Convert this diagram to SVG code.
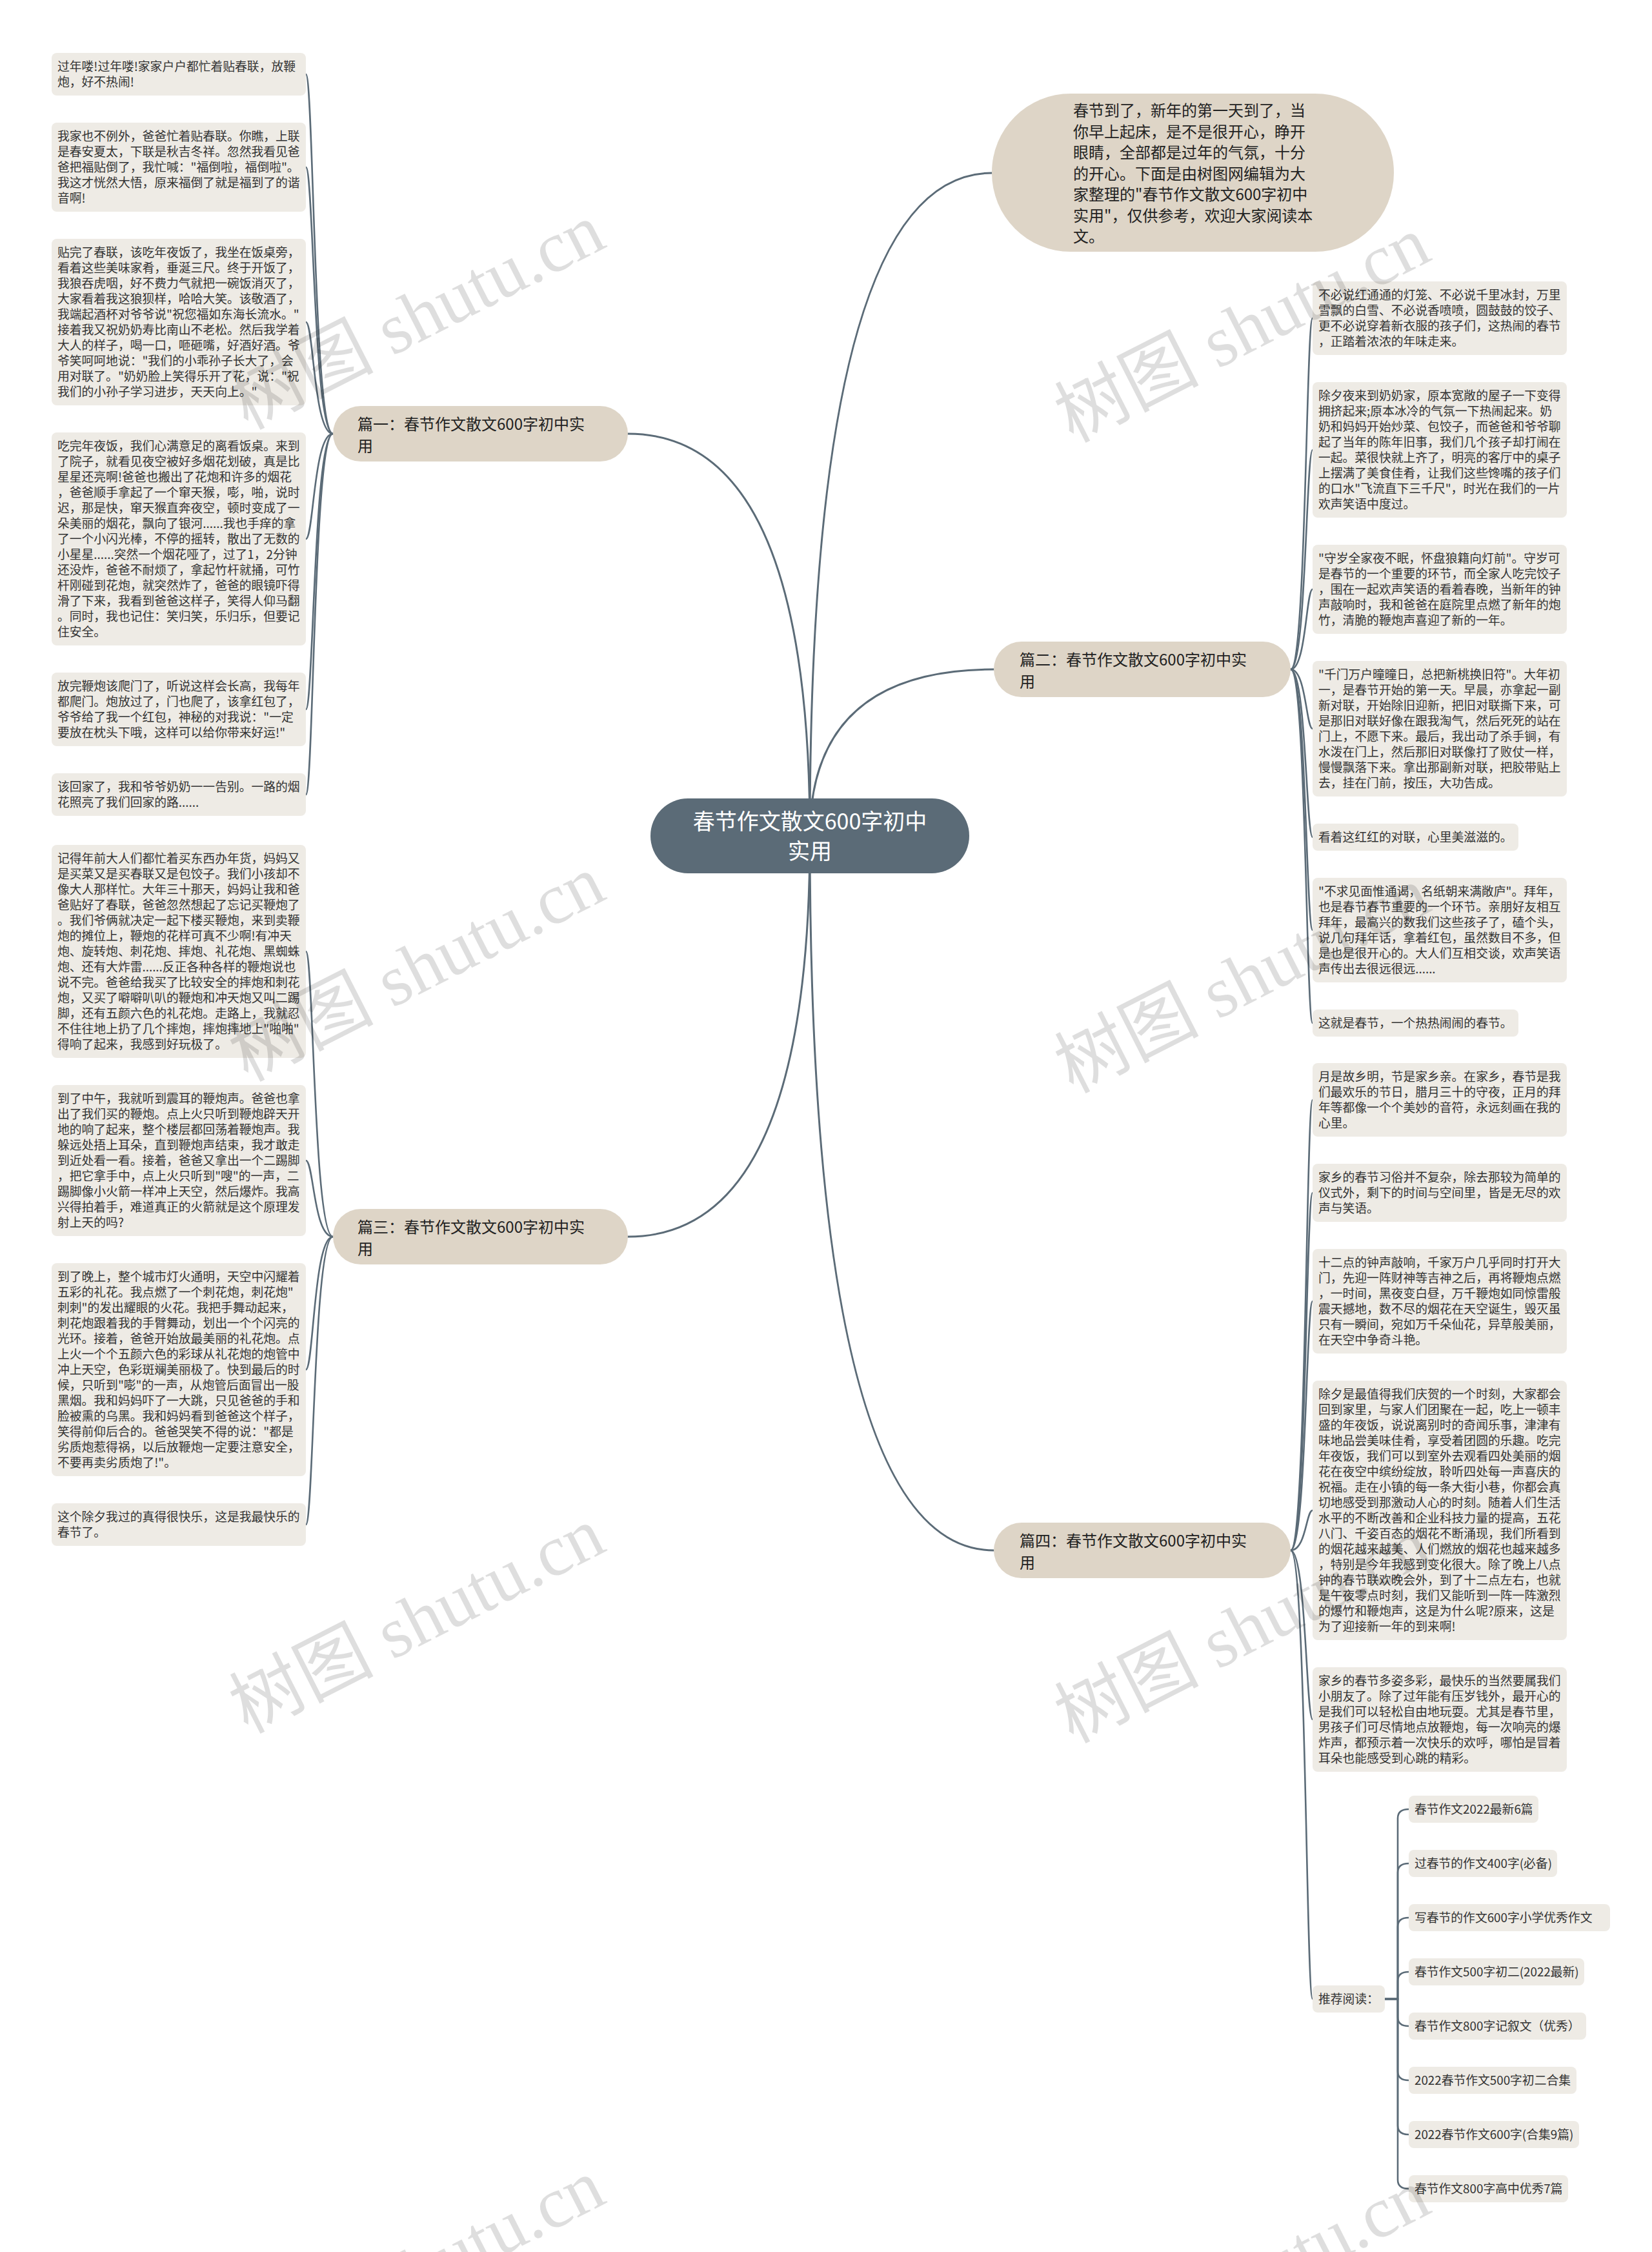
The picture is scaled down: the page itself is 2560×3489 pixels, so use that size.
<svg xmlns="http://www.w3.org/2000/svg" width="2560" height="3489" viewBox="0 0 2560 3489">
<style>
.bg{fill:#ffffff}
.c{fill:none;stroke:#5b6b77;stroke-width:2.6;stroke-linecap:round;stroke-linejoin:round}
.cr{fill:none;stroke:#5b6b77;stroke-width:3;stroke-linecap:round}
.leaf{fill:#eeebe5}
.lt{font-family:"Noto Sans CJK SC","Noto Sans",sans-serif;font-size:18.8px;fill:#333333}
.br{fill:#ded5c7}
.bt{font-family:"Noto Sans CJK SC","Noto Sans",sans-serif;font-size:24px;fill:#222222}
.root{fill:#5b6b77}
.rt{font-family:"Noto Sans CJK SC","Noto Sans",sans-serif;font-size:34px;fill:#ffffff;text-anchor:middle}
.wm{font-family:"Liberation Serif","Noto Sans CJK SC",serif;font-size:112px;fill:#000000;fill-opacity:0.13;text-anchor:middle}
</style>
<rect class="bg" x="0" y="0" width="2560" height="3489"/>

<g id="connectors">
<path class="cr" d="M1255 1295 Q1255 268 1537 268"/>
<path class="cr" d="M1255 1295 Q1255 1037 1540 1037"/>
<path class="cr" d="M1255 1295 Q1255 2402 1540 2402"/>
<path class="cr" d="M1255 1295 Q1255 672 973 672"/>
<path class="cr" d="M1255 1295 Q1255 1916 973 1916"/>
<path class="c" d="M516 672 C486 672 486 115 474 115"/>
<path class="c" d="M516 672 C486 672 486 259 474 259"/>
<path class="c" d="M516 672 C486 672 486 499 474 499"/>
<path class="c" d="M516 672 C486 672 486 835 474 835"/>
<path class="c" d="M516 672 C486 672 486 1099 474 1099"/>
<path class="c" d="M516 672 C486 672 486 1231 474 1231"/>
<path class="c" d="M516 1916 C486 1916 486 1474 474 1474"/>
<path class="c" d="M516 1916 C486 1916 486 1798 474 1798"/>
<path class="c" d="M516 1916 C486 1916 486 2122 474 2122"/>
<path class="c" d="M516 1916 C486 1916 486 2362 474 2362"/>
<path class="c" d="M2000 1037 C2024 1037 2024 493 2034 493"/>
<path class="c" d="M2000 1037 C2024 1037 2024 697 2034 697"/>
<path class="c" d="M2000 1037 C2024 1037 2024 913 2034 913"/>
<path class="c" d="M2000 1037 C2024 1037 2024 1129 2034 1129"/>
<path class="c" d="M2000 1037 C2024 1037 2024 1297 2034 1297"/>
<path class="c" d="M2000 1037 C2024 1037 2024 1441 2034 1441"/>
<path class="c" d="M2000 1037 C2024 1037 2024 1585 2034 1585"/>
<path class="c" d="M2000 2402 C2024 2402 2024 1704 2034 1704"/>
<path class="c" d="M2000 2402 C2024 2402 2024 1848 2034 1848"/>
<path class="c" d="M2000 2402 C2024 2402 2024 2016 2034 2016"/>
<path class="c" d="M2000 2402 C2024 2402 2024 2340 2034 2340"/>
<path class="c" d="M2000 2402 C2024 2402 2024 2664 2034 2664"/>
<path class="c" d="M2000 2402 C2024 2402 2024 3097 2034 3097"/>
<path class="c" d="M2146 3097 L2166 3097 L2166 2817 Q2166 2803 2183 2803"/>
<path class="c" d="M2146 3097 L2166 3097 L2166 2901 Q2166 2887 2183 2887"/>
<path class="c" d="M2146 3097 L2166 3097 L2166 2985 Q2166 2971 2183 2971"/>
<path class="c" d="M2146 3097 L2166 3097 L2166 3069 Q2166 3055 2183 3055"/>
<path class="c" d="M2146 3097 L2166 3097 L2166 3125 Q2166 3139 2183 3139"/>
<path class="c" d="M2146 3097 L2166 3097 L2166 3209 Q2166 3223 2183 3223"/>
<path class="c" d="M2146 3097 L2166 3097 L2166 3293 Q2166 3307 2183 3307"/>
<path class="c" d="M2146 3097 L2166 3097 L2166 3377 Q2166 3391 2183 3391"/>
</g>

<g id="root">
<rect class="root" x="1008" y="1237" width="494" height="116" rx="58"/>
<text class="rt" x="1255" y="1285">春节作文散文600字初中</text>
<text class="rt" x="1255" y="1331">实用</text>
</g>

<g id="intro">
<rect class="br" x="1537" y="145" width="623" height="245" rx="122"/>
<text class="bt" x="1663" y="180">春节到了，新年的第一天到了，当</text>
<text class="bt" x="1663" y="212.5">你早上起床，是不是很开心，睁开</text>
<text class="bt" x="1663" y="245">眼睛，全部都是过年的气氛，十分</text>
<text class="bt" x="1663" y="277.5">的开心。下面是由树图网编辑为大</text>
<text class="bt" x="1663" y="310">家整理的"春节作文散文600字初中</text>
<text class="bt" x="1663" y="342.5">实用"，仅供参考，欢迎大家阅读本</text>
<text class="bt" x="1663" y="375">文。</text>
</g>

<g id="branch1">
<rect class="br" x="516" y="629" width="457" height="86" rx="43"/>
<text class="bt" x="554" y="666">篇一：春节作文散文600字初中实</text>
<text class="bt" x="554" y="700">用</text>
</g>
<g id="branch2">
<rect class="br" x="1540" y="994" width="460" height="86" rx="43"/>
<text class="bt" x="1580" y="1031">篇二：春节作文散文600字初中实</text>
<text class="bt" x="1580" y="1065">用</text>
</g>
<g id="branch3">
<rect class="br" x="516" y="1873" width="457" height="86" rx="43"/>
<text class="bt" x="554" y="1910">篇三：春节作文散文600字初中实</text>
<text class="bt" x="554" y="1944">用</text>
</g>
<g id="branch4">
<rect class="br" x="1540" y="2359" width="460" height="86" rx="43"/>
<text class="bt" x="1580" y="2396">篇四：春节作文散文600字初中实</text>
<text class="bt" x="1580" y="2430">用</text>
</g>

<g id="b1">
<rect class="leaf" x="80" y="82" width="394" height="66" rx="8"/>
<text class="lt"><tspan x="89" y="110.2">过年喽!过年喽!家家户户都忙着贴春联，放鞭</tspan><tspan x="89" y="134.2">炮，好不热闹!</tspan></text>
</g>
<g id="b2">
<rect class="leaf" x="80" y="190" width="394" height="138" rx="8"/>
<text class="lt"><tspan x="89" y="218.2">我家也不例外，爸爸忙着贴春联。你瞧，上联</tspan><tspan x="89" y="242.2">是春安夏太，下联是秋吉冬祥。忽然我看见爸</tspan><tspan x="89" y="266.2">爸把福贴倒了，我忙喊："福倒啦，福倒啦"。</tspan><tspan x="89" y="290.2">我这才恍然大悟，原来福倒了就是福到了的谐</tspan><tspan x="89" y="314.2">音啊!</tspan></text>
</g>
<g id="b3">
<rect class="leaf" x="80" y="370" width="394" height="258" rx="8"/>
<text class="lt"><tspan x="89" y="398.2">贴完了春联，该吃年夜饭了，我坐在饭桌旁，</tspan><tspan x="89" y="422.2">看着这些美味家肴，垂涎三尺。终于开饭了，</tspan><tspan x="89" y="446.2">我狼吞虎咽，好不费力气就把一碗饭消灭了，</tspan><tspan x="89" y="470.2">大家看着我这狼狈样，哈哈大笑。该敬酒了，</tspan><tspan x="89" y="494.2">我端起酒杯对爷爷说"祝您福如东海长流水。"</tspan><tspan x="89" y="518.2">接着我又祝奶奶寿比南山不老松。然后我学着</tspan><tspan x="89" y="542.2">大人的样子，喝一口，咂砸嘴，好酒好酒。爷</tspan><tspan x="89" y="566.2">爷笑呵呵地说："我们的小乖孙子长大了，会</tspan><tspan x="89" y="590.2">用对联了。"奶奶脸上笑得乐开了花，说："祝</tspan><tspan x="89" y="614.2">我们的小孙子学习进步，天天向上。"</tspan></text>
</g>
<g id="b4">
<rect class="leaf" x="80" y="670" width="394" height="330" rx="8"/>
<text class="lt"><tspan x="89" y="698.2">吃完年夜饭，我们心满意足的离看饭桌。来到</tspan><tspan x="89" y="722.2">了院子，就看见夜空被好多烟花划破，真是比</tspan><tspan x="89" y="746.2">星星还亮啊!爸爸也搬出了花炮和许多的烟花</tspan><tspan x="89" y="770.2">，爸爸顺手拿起了一个窜天猴，嘭，啪，说时</tspan><tspan x="89" y="794.2">迟，那是快，窜天猴直奔夜空，顿时变成了一</tspan><tspan x="89" y="818.2">朵美丽的烟花，飘向了银河......我也手痒的拿</tspan><tspan x="89" y="842.2">了一个小闪光棒，不停的摇转，散出了无数的</tspan><tspan x="89" y="866.2">小星星......突然一个烟花哑了，过了1，2分钟</tspan><tspan x="89" y="890.2">还没炸，爸爸不耐烦了，拿起竹杆就捅，可竹</tspan><tspan x="89" y="914.2">杆刚碰到花炮，就突然炸了，爸爸的眼镜吓得</tspan><tspan x="89" y="938.2">滑了下来，我看到爸爸这样子，笑得人仰马翻</tspan><tspan x="89" y="962.2">。同时，我也记住：笑归笑，乐归乐，但要记</tspan><tspan x="89" y="986.2">住安全。</tspan></text>
</g>
<g id="b5">
<rect class="leaf" x="80" y="1042" width="394" height="114" rx="8"/>
<text class="lt"><tspan x="89" y="1070.2">放完鞭炮该爬门了，听说这样会长高，我每年</tspan><tspan x="89" y="1094.2">都爬门。炮放过了，门也爬了，该拿红包了，</tspan><tspan x="89" y="1118.2">爷爷给了我一个红包，神秘的对我说："一定</tspan><tspan x="89" y="1142.2">要放在枕头下哦，这样可以给你带来好运!"</tspan></text>
</g>
<g id="b6">
<rect class="leaf" x="80" y="1198" width="394" height="66" rx="8"/>
<text class="lt"><tspan x="89" y="1226.2">该回家了，我和爷爷奶奶一一告别。一路的烟</tspan><tspan x="89" y="1250.2">花照亮了我们回家的路......</tspan></text>
</g>

<g id="b7">
<rect class="leaf" x="80" y="1309" width="394" height="330" rx="8"/>
<text class="lt"><tspan x="89" y="1337.2">记得年前大人们都忙着买东西办年货，妈妈又</tspan><tspan x="89" y="1361.2">是买菜又是买春联又是包饺子。我们小孩却不</tspan><tspan x="89" y="1385.2">像大人那样忙。大年三十那天，妈妈让我和爸</tspan><tspan x="89" y="1409.2">爸贴好了春联，爸爸忽然想起了忘记买鞭炮了</tspan><tspan x="89" y="1433.2">。我们爷俩就决定一起下楼买鞭炮，来到卖鞭</tspan><tspan x="89" y="1457.2">炮的摊位上，鞭炮的花样可真不少啊!有冲天</tspan><tspan x="89" y="1481.2">炮、旋转炮、刺花炮、摔炮、礼花炮、黑蜘蛛</tspan><tspan x="89" y="1505.2">炮、还有大炸雷......反正各种各样的鞭炮说也</tspan><tspan x="89" y="1529.2">说不完。爸爸给我买了比较安全的摔炮和刺花</tspan><tspan x="89" y="1553.2">炮，又买了噼噼叭叭的鞭炮和冲天炮又叫二踢</tspan><tspan x="89" y="1577.2">脚，还有五颜六色的礼花炮。走路上，我就忍</tspan><tspan x="89" y="1601.2">不住往地上扔了几个摔炮，摔炮摔地上"啪啪"</tspan><tspan x="89" y="1625.2">得响了起来，我感到好玩极了。</tspan></text>
</g>
<g id="b8">
<rect class="leaf" x="80" y="1681" width="394" height="234" rx="8"/>
<text class="lt"><tspan x="89" y="1709.2">到了中午，我就听到震耳的鞭炮声。爸爸也拿</tspan><tspan x="89" y="1733.2">出了我们买的鞭炮。点上火只听到鞭炮辟天开</tspan><tspan x="89" y="1757.2">地的响了起来，整个楼层都回荡着鞭炮声。我</tspan><tspan x="89" y="1781.2">躲远处捂上耳朵，直到鞭炮声结束，我才敢走</tspan><tspan x="89" y="1805.2">到近处看一看。接着，爸爸又拿出一个二踢脚</tspan><tspan x="89" y="1829.2">，把它拿手中，点上火只听到"嗖"的一声，二</tspan><tspan x="89" y="1853.2">踢脚像小火箭一样冲上天空，然后爆炸。我高</tspan><tspan x="89" y="1877.2">兴得拍着手，难道真正的火箭就是这个原理发</tspan><tspan x="89" y="1901.2">射上天的吗?</tspan></text>
</g>
<g id="b9">
<rect class="leaf" x="80" y="1957" width="394" height="330" rx="8"/>
<text class="lt"><tspan x="89" y="1985.2">到了晚上，整个城市灯火通明，天空中闪耀着</tspan><tspan x="89" y="2009.2">五彩的礼花。我点燃了一个刺花炮，刺花炮"</tspan><tspan x="89" y="2033.2">刺刺"的发出耀眼的火花。我把手舞动起来，</tspan><tspan x="89" y="2057.2">刺花炮跟着我的手臂舞动，划出一个个闪亮的</tspan><tspan x="89" y="2081.2">光环。接着，爸爸开始放最美丽的礼花炮。点</tspan><tspan x="89" y="2105.2">上火一个个五颜六色的彩球从礼花炮的炮管中</tspan><tspan x="89" y="2129.2">冲上天空，色彩斑斓美丽极了。快到最后的时</tspan><tspan x="89" y="2153.2">候，只听到"嘭"的一声，从炮管后面冒出一股</tspan><tspan x="89" y="2177.2">黑烟。我和妈妈吓了一大跳，只见爸爸的手和</tspan><tspan x="89" y="2201.2">脸被熏的乌黑。我和妈妈看到爸爸这个样子，</tspan><tspan x="89" y="2225.2">笑得前仰后合的。爸爸哭笑不得的说："都是</tspan><tspan x="89" y="2249.2">劣质炮惹得祸，以后放鞭炮一定要注意安全，</tspan><tspan x="89" y="2273.2">不要再卖劣质炮了!"。</tspan></text>
</g>
<g id="b10">
<rect class="leaf" x="80" y="2329" width="394" height="66" rx="8"/>
<text class="lt"><tspan x="89" y="2357.2">这个除夕我过的真得很快乐，这是我最快乐的</tspan><tspan x="89" y="2381.2">春节了。</tspan></text>
</g>

<g id="r1">
<rect class="leaf" x="2034" y="436" width="394" height="114" rx="8"/>
<text class="lt"><tspan x="2043" y="464.2">不必说红通通的灯笼、不必说千里冰封，万里</tspan><tspan x="2043" y="488.2">雪飘的白雪、不必说香喷喷，圆鼓鼓的饺子、</tspan><tspan x="2043" y="512.2">更不必说穿着新衣服的孩子们，这热闹的春节</tspan><tspan x="2043" y="536.2">，正踏着浓浓的年味走来。</tspan></text>
</g>
<g id="r2">
<rect class="leaf" x="2034" y="592" width="394" height="210" rx="8"/>
<text class="lt"><tspan x="2043" y="620.2">除夕夜来到奶奶家，原本宽敞的屋子一下变得</tspan><tspan x="2043" y="644.2">拥挤起来;原本冰冷的气氛一下热闹起来。奶</tspan><tspan x="2043" y="668.2">奶和妈妈开始炒菜、包饺子，而爸爸和爷爷聊</tspan><tspan x="2043" y="692.2">起了当年的陈年旧事，我们几个孩子却打闹在</tspan><tspan x="2043" y="716.2">一起。菜很快就上齐了，明亮的客厅中的桌子</tspan><tspan x="2043" y="740.2">上摆满了美食佳肴，让我们这些馋嘴的孩子们</tspan><tspan x="2043" y="764.2">的口水"飞流直下三千尺"，时光在我们的一片</tspan><tspan x="2043" y="788.2">欢声笑语中度过。</tspan></text>
</g>
<g id="r3">
<rect class="leaf" x="2034" y="844" width="394" height="138" rx="8"/>
<text class="lt"><tspan x="2043" y="872.2">"守岁全家夜不眠，怀盘狼籍向灯前"。守岁可</tspan><tspan x="2043" y="896.2">是春节的一个重要的环节，而全家人吃完饺子</tspan><tspan x="2043" y="920.2">，围在一起欢声笑语的看着春晚，当新年的钟</tspan><tspan x="2043" y="944.2">声敲响时，我和爸爸在庭院里点燃了新年的炮</tspan><tspan x="2043" y="968.2">竹，清脆的鞭炮声喜迎了新的一年。</tspan></text>
</g>
<g id="r4">
<rect class="leaf" x="2034" y="1024" width="394" height="210" rx="8"/>
<text class="lt"><tspan x="2043" y="1052.2">"千门万户曈曈日，总把新桃换旧符"。大年初</tspan><tspan x="2043" y="1076.2">一，是春节开始的第一天。早晨，亦拿起一副</tspan><tspan x="2043" y="1100.2">新对联，开始除旧迎新，把旧对联撕下来，可</tspan><tspan x="2043" y="1124.2">是那旧对联好像在跟我淘气，然后死死的站在</tspan><tspan x="2043" y="1148.2">门上，不愿下来。最后，我出动了杀手锏，有</tspan><tspan x="2043" y="1172.2">水泼在门上，然后那旧对联像打了败仗一样，</tspan><tspan x="2043" y="1196.2">慢慢飘落下来。拿出那副新对联，把胶带贴上</tspan><tspan x="2043" y="1220.2">去，挂在门前，按压，大功告成。</tspan></text>
</g>
<g id="r5">
<rect class="leaf" x="2034" y="1276" width="319" height="42" rx="8"/>
<text class="lt"><tspan x="2043" y="1304.2">看着这红红的对联，心里美滋滋的。</tspan></text>
</g>
<g id="r6">
<rect class="leaf" x="2034" y="1360" width="394" height="162" rx="8"/>
<text class="lt"><tspan x="2043" y="1388.2">"不求见面惟通谒，名纸朝来满敞庐"。拜年，</tspan><tspan x="2043" y="1412.2">也是春节春节重要的一个环节。亲朋好友相互</tspan><tspan x="2043" y="1436.2">拜年，最高兴的数我们这些孩子了，磕个头，</tspan><tspan x="2043" y="1460.2">说几句拜年话，拿着红包，虽然数目不多，但</tspan><tspan x="2043" y="1484.2">是也是很开心的。大人们互相交谈，欢声笑语</tspan><tspan x="2043" y="1508.2">声传出去很远很远......</tspan></text>
</g>
<g id="r7">
<rect class="leaf" x="2034" y="1564" width="319" height="42" rx="8"/>
<text class="lt"><tspan x="2043" y="1592.2">这就是春节，一个热热闹闹的春节。</tspan></text>
</g>

<g id="r8">
<rect class="leaf" x="2034" y="1647" width="394" height="114" rx="8"/>
<text class="lt"><tspan x="2043" y="1675.2">月是故乡明，节是家乡亲。在家乡，春节是我</tspan><tspan x="2043" y="1699.2">们最欢乐的节日，腊月三十的守夜，正月的拜</tspan><tspan x="2043" y="1723.2">年等都像一个个美妙的音符，永远刻画在我的</tspan><tspan x="2043" y="1747.2">心里。</tspan></text>
</g>
<g id="r9">
<rect class="leaf" x="2034" y="1803" width="394" height="90" rx="8"/>
<text class="lt"><tspan x="2043" y="1831.2">家乡的春节习俗并不复杂，除去那较为简单的</tspan><tspan x="2043" y="1855.2">仪式外，剩下的时间与空间里，皆是无尽的欢</tspan><tspan x="2043" y="1879.2">声与笑语。</tspan></text>
</g>
<g id="r10">
<rect class="leaf" x="2034" y="1935" width="394" height="162" rx="8"/>
<text class="lt"><tspan x="2043" y="1963.2">十二点的钟声敲响，千家万户几乎同时打开大</tspan><tspan x="2043" y="1987.2">门，先迎一阵财神等吉神之后，再将鞭炮点燃</tspan><tspan x="2043" y="2011.2">，一时间，黑夜变白昼，万千鞭炮如同惊雷般</tspan><tspan x="2043" y="2035.2">震天撼地，数不尽的烟花在天空诞生，毁灭虽</tspan><tspan x="2043" y="2059.2">只有一瞬间，宛如万千朵仙花，异草般美丽，</tspan><tspan x="2043" y="2083.2">在天空中争奇斗艳。</tspan></text>
</g>
<g id="r11">
<rect class="leaf" x="2034" y="2139" width="394" height="402" rx="8"/>
<text class="lt"><tspan x="2043" y="2167.2">除夕是最值得我们庆贺的一个时刻，大家都会</tspan><tspan x="2043" y="2191.2">回到家里，与家人们团聚在一起，吃上一顿丰</tspan><tspan x="2043" y="2215.2">盛的年夜饭，说说离别时的奇闻乐事，津津有</tspan><tspan x="2043" y="2239.2">味地品尝美味佳肴，享受着团圆的乐趣。吃完</tspan><tspan x="2043" y="2263.2">年夜饭，我们可以到室外去观看四处美丽的烟</tspan><tspan x="2043" y="2287.2">花在夜空中缤纷绽放，聆听四处每一声喜庆的</tspan><tspan x="2043" y="2311.2">祝福。走在小镇的每一条大街小巷，你都会真</tspan><tspan x="2043" y="2335.2">切地感受到那激动人心的时刻。随着人们生活</tspan><tspan x="2043" y="2359.2">水平的不断改善和企业科技力量的提高，五花</tspan><tspan x="2043" y="2383.2">八门、千姿百态的烟花不断涌现，我们所看到</tspan><tspan x="2043" y="2407.2">的烟花越来越美、人们燃放的烟花也越来越多</tspan><tspan x="2043" y="2431.2">，特别是今年我感到变化很大。除了晚上八点</tspan><tspan x="2043" y="2455.2">钟的春节联欢晚会外，到了十二点左右，也就</tspan><tspan x="2043" y="2479.2">是午夜零点时刻，我们又能听到一阵一阵激烈</tspan><tspan x="2043" y="2503.2">的爆竹和鞭炮声，这是为什么呢?原来，这是</tspan><tspan x="2043" y="2527.2">为了迎接新一年的到来啊!</tspan></text>
</g>
<g id="r12">
<rect class="leaf" x="2034" y="2583" width="394" height="162" rx="8"/>
<text class="lt"><tspan x="2043" y="2611.2">家乡的春节多姿多彩，最快乐的当然要属我们</tspan><tspan x="2043" y="2635.2">小朋友了。除了过年能有压岁钱外，最开心的</tspan><tspan x="2043" y="2659.2">是我们可以轻松自由地玩耍。尤其是春节里，</tspan><tspan x="2043" y="2683.2">男孩子们可尽情地点放鞭炮，每一次响亮的爆</tspan><tspan x="2043" y="2707.2">炸声，都预示着一次快乐的欢呼，哪怕是冒着</tspan><tspan x="2043" y="2731.2">耳朵也能感受到心跳的精彩。</tspan></text>
</g>

<g id="reading">
<rect class="leaf" x="2034" y="3076" width="112" height="42" rx="8"/>
<text class="lt" x="2043" y="3104.2">推荐阅读：</text>
</g>
<g id="read1">
<rect class="leaf" x="2183" y="2782" width="201" height="42" rx="8"/>
<text class="lt" x="2192" y="2810.2">春节作文2022最新6篇</text>
</g>
<g id="read2">
<rect class="leaf" x="2183" y="2866" width="230" height="42" rx="8"/>
<text class="lt" x="2192" y="2894.2">过春节的作文400字(必备)</text>
</g>
<g id="read3">
<rect class="leaf" x="2183" y="2950" width="312" height="42" rx="8"/>
<text class="lt" x="2192" y="2978.2">写春节的作文600字小学优秀作文</text>
</g>
<g id="read4">
<rect class="leaf" x="2183" y="3034" width="272" height="42" rx="8"/>
<text class="lt" x="2192" y="3062.2">春节作文500字初二(2022最新)</text>
</g>
<g id="read5">
<rect class="leaf" x="2183" y="3118" width="275" height="42" rx="8"/>
<text class="lt" x="2192" y="3146.2">春节作文800字记叙文（优秀）</text>
</g>
<g id="read6">
<rect class="leaf" x="2183" y="3202" width="260" height="42" rx="8"/>
<text class="lt" x="2192" y="3230.2">2022春节作文500字初二合集</text>
</g>
<g id="read7">
<rect class="leaf" x="2183" y="3286" width="264" height="42" rx="8"/>
<text class="lt" x="2192" y="3314.2">2022春节作文600字(合集9篇)</text>
</g>
<g id="read8">
<rect class="leaf" x="2183" y="3370" width="247" height="42" rx="8"/>
<text class="lt" x="2192" y="3398.2">春节作文800字高中优秀7篇</text>
</g>

<g id="watermarks">
<text class="wm" x="646" y="528" transform="rotate(-27 646 490)">树图 shutu.cn</text>
<text class="wm" x="1925" y="548" transform="rotate(-27 1925 510)">树图 shutu.cn</text>
<text class="wm" x="646" y="1538" transform="rotate(-27 646 1500)">树图 shutu.cn</text>
<text class="wm" x="1925" y="1556" transform="rotate(-27 1925 1518)">树图 shutu.cn</text>
<text class="wm" x="646" y="2548" transform="rotate(-27 646 2510)">树图 shutu.cn</text>
<text class="wm" x="1925" y="2563" transform="rotate(-27 1925 2525)">树图 shutu.cn</text>
<text class="wm" x="646" y="3558" transform="rotate(-27 646 3520)">树图 shutu.cn</text>
<text class="wm" x="1925" y="3573" transform="rotate(-27 1925 3535)">树图 shutu.cn</text>
</g>
</svg>
